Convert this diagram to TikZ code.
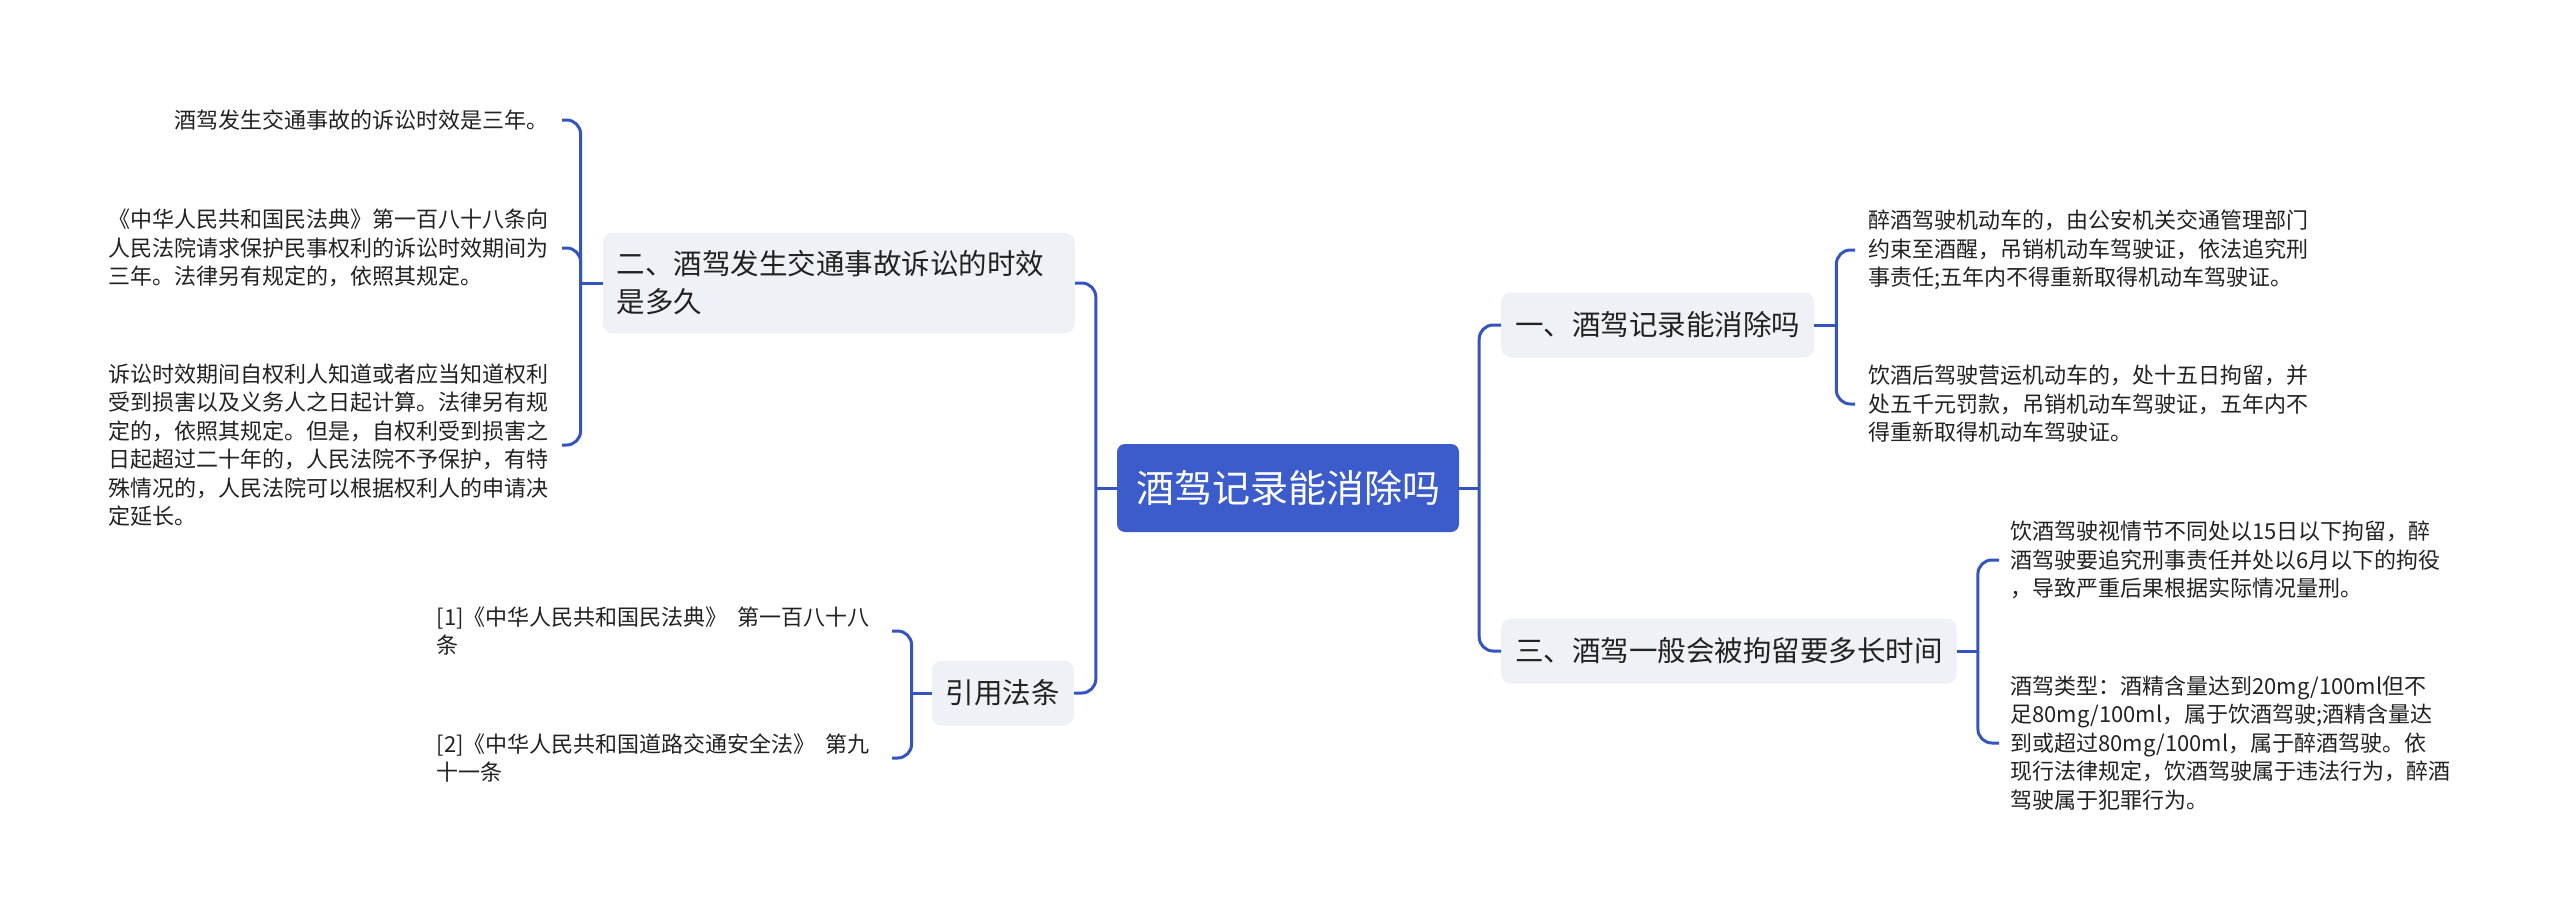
\documentclass[tikz,border=0pt]{standalone}
\usepackage{fontspec}
\setmainfont{Noto Sans CJK SC}
\usepackage{tikz}
\usetikzlibrary{positioning}
\usepackage{xcolor}
\definecolor{rootblue}{HTML}{3C5CCB}
\definecolor{linkblue}{HTML}{3554C0}
\definecolor{topicgray}{HTML}{EEF1F5}
\definecolor{inkgray}{HTML}{222222}

\begin{document}
\begin{tikzpicture}[
  x=1pt, y=-1pt,
  root/.style={fill=rootblue, rounded corners=8pt, text=white,
    font=\fontsize{38}{46}\selectfont, inner xsep=19pt, minimum height=88pt},
  topic/.style={fill=topicgray, rounded corners=10pt, text=inkgray, align=left,
    font=\fontsize{28.5}{38}\selectfont, inner xsep=14pt, inner ysep=18pt,
    minimum height=65pt},
  leaf/.style={text=inkgray, align=left, font=\fontsize{22}{28.5}\selectfont,
    inner xsep=13pt, inner ysep=0pt},
  link/.style={draw=linkblue, line width=3pt},
  elbow/.style={link, rounded corners=14pt}
]
\useasboundingbox[fill=white] (0,0) rectangle (2560,921);

\node[root] (root) at (1288,488) {酒驾记录能消除吗};

\node[topic, anchor=east, text width=444pt] (limit) at (1075,283) {二、酒驾发生交通事故诉讼的时效\\是多久};
\node[topic, anchor=east] (cite) at (1074,693) {引用法条};
\node[topic, anchor=west] (erase) at (1501,325) {一、酒驾记录能消除吗};
\node[topic, anchor=west] (detain) at (1501,651) {三、酒驾一般会被拘留要多长时间};

\node[leaf, anchor=east] (limit1) at (562,120) {酒驾发生交通事故的诉讼时效是三年。};
\node[leaf, anchor=east] (limit2) at (562,248) {《中华人民共和国民法典》第一百八十八条向\\人民法院请求保护民事权利的诉讼时效期间为\\三年。法律另有规定的，依照其规定。};
\node[leaf, anchor=east] (limit3) at (562,445) {诉讼时效期间自权利人知道或者应当知道权利\\受到损害以及义务人之日起计算。法律另有规\\定的，依照其规定。但是，自权利受到损害之\\日起超过二十年的，人民法院不予保护，有特\\殊情况的，人民法院可以根据权利人的申请决\\定延长。};

\node[leaf, anchor=east] (cite1) at (883,631) {[1]《中华人民共和国民法典》\hspace{0.45em}第一百八十八\\条};
\node[leaf, anchor=east] (cite2) at (883,758) {[2]《中华人民共和国道路交通安全法》\hspace{0.45em}第九\\十一条};

\node[leaf, anchor=west] (erase1) at (1855,250) {醉酒驾驶机动车的，由公安机关交通管理部门\\约束至酒醒，吊销机动车驾驶证，依法追究刑\\事责任;五年内不得重新取得机动车驾驶证。};
\node[leaf, anchor=west] (erase2) at (1855,404) {饮酒后驾驶营运机动车的，处十五日拘留，并\\处五千元罚款，吊销机动车驾驶证，五年内不\\得重新取得机动车驾驶证。};

\node[leaf, anchor=west] (detain1) at (1997,560) {饮酒驾驶视情节不同处以15日以下拘留，醉\\酒驾驶要追究刑事责任并处以6月以下的拘役\\，导致严重后果根据实际情况量刑。};
\node[leaf, anchor=west] (detain2) at (1997,743) {酒驾类型：酒精含量达到20mg/100ml但不\\足80mg/100ml，属于饮酒驾驶;酒精含量达\\到或超过80mg/100ml，属于醉酒驾驶。依\\现行法律规定，饮酒驾驶属于违法行为，醉酒\\驾驶属于犯罪行为。};

% trunks from the root
\coordinate (lj) at ([xshift=-21pt]root.west);
\coordinate (rj) at ([xshift=20pt]root.east);
\draw[link] (root.west) -- (lj);
\draw[elbow] (lj) |- (limit.east);
\draw[elbow] (lj) |- (cite.east);
\draw[link] (root.east) -- (rj);
\draw[elbow] (rj) |- (erase.west);
\draw[elbow] (rj) |- (detain.west);

% brackets to the leaves
\coordinate (limitj) at ([xshift=-22pt]limit.west);
\draw[link] (limit.west) -- (limitj);
\draw[elbow] (limitj) |- (limit1.east);
\draw[elbow] (limitj) |- (limit2.east);
\draw[elbow] (limitj) |- (limit3.east);

\coordinate (citej) at ([xshift=-20pt]cite.west);
\draw[link] (cite.west) -- (citej);
\draw[elbow] (citej) |- ([xshift=9pt]cite1.east);
\draw[elbow] (citej) |- ([xshift=9pt]cite2.east);

\coordinate (erasej) at ([xshift=22pt]erase.east);
\draw[link] (erase.east) -- (erasej);
\draw[elbow] (erasej) |- (erase1.west);
\draw[elbow] (erasej) |- (erase2.west);

\coordinate (detainj) at ([xshift=21pt]detain.east);
\draw[link] (detain.east) -- (detainj);
\draw[elbow] (detainj) |- ([xshift=2pt]detain1.west);
\draw[elbow] (detainj) |- ([xshift=2pt]detain2.west);
\end{tikzpicture}
\end{document}
